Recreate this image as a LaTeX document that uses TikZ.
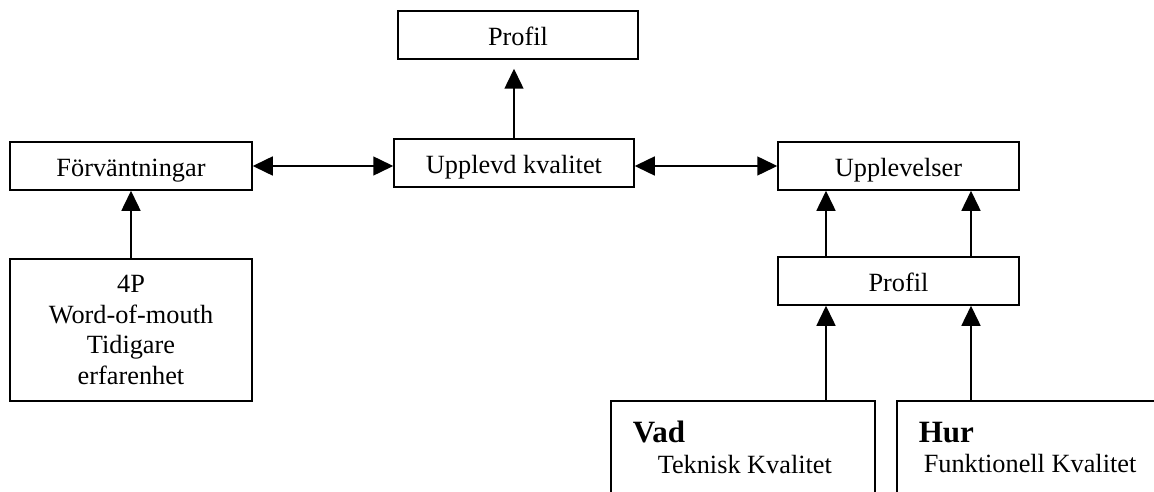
\documentclass[tikz,border=0pt]{standalone}
\usepackage{fontspec}
\setmainfont{Liberation Serif}
\usetikzlibrary{arrows.meta}

\begin{document}
\begin{tikzpicture}[x=1pt, y=-1pt,
    line width=1.5pt,
    txt/.style={font=\fontsize{26.3}{30.7}\selectfont},
    box/.style={draw, rectangle, inner sep=0pt, txt,
                text height=21pt, text depth=0pt},
    tallbox/.style={draw, rectangle, inner sep=0pt, txt, align=center},
    head/.style={font=\fontsize{31}{36}\selectfont\bfseries, inner sep=0pt, anchor=base west},
    sub/.style={txt, inner sep=0pt, anchor=base west},
    link/.style={-{Triangle[length=20pt,width=19pt]}},
    dlink/.style={{Triangle[length=20pt,width=19pt]}-{Triangle[length=20pt,width=19pt]}}
  ]
  \useasboundingbox (0,0) rectangle (1154,492);
  \clip (0,0) rectangle (1154,492);

  % top row
  \node[box, minimum width=240pt, minimum height=48pt] (prof) at (518,35) {Profil};
  \node[box, minimum width=240pt, minimum height=48pt] (upp) at (514,163) {Upplevd kvalitet};
  \node[box, minimum width=242pt, minimum height=48pt] (forv) at (131,166) {Förväntningar};
  \node[box, minimum width=241pt, minimum height=48pt] (upl) at (898.5,166) {Upplevelser};

  % left branch
  \node[tallbox, minimum width=242pt, minimum height=142pt] (p4) at (131,330)
    {4P\\Word-of-mouth\\Tidigare\\erfarenhet};

  % right branch
  \node[box, minimum width=241pt, minimum height=48pt] (prof2) at (898.5,281) {Profil};
  \node[draw, rectangle, inner sep=0pt, minimum width=264pt, minimum height=129pt] (vad) at (743,465.5) {};
  \node[draw, rectangle, inner sep=0pt, minimum width=283pt, minimum height=129pt] (hur) at (1038.5,465.5) {};
  \node[head] (vadh) at (632,442) {Vad};
  \node[sub] (vadt) at (657,473) {Teknisk Kvalitet};
  \node[head] (hurh) at (918,442) {Hur};
  \node[sub] (hurt) at (923,472) {Funktionell Kvalitet};

  % connectors
  \draw[dlink] (forv.east) -- (forv.east -| upp.west);
  \draw[dlink] (upl.west -| upp.east) -- (upl.west);
  \draw[link, shorten >=9pt] (upp.north) -- (upp.north |- prof.south);
  \draw[link] (p4.north) -- (forv.south);
  \draw[link] ([xshift=-72.5pt]prof2.north) -- ([xshift=-72.5pt]upl.south);
  \draw[link] ([xshift=72.5pt]prof2.north) -- ([xshift=72.5pt]upl.south);
  \draw[link] ([xshift=-72.5pt]prof2.south |- vad.north) -- ([xshift=-72.5pt]prof2.south);
  \draw[link] ([xshift=72.5pt]prof2.south |- hur.north) -- ([xshift=72.5pt]prof2.south);
\end{tikzpicture}
\end{document}
